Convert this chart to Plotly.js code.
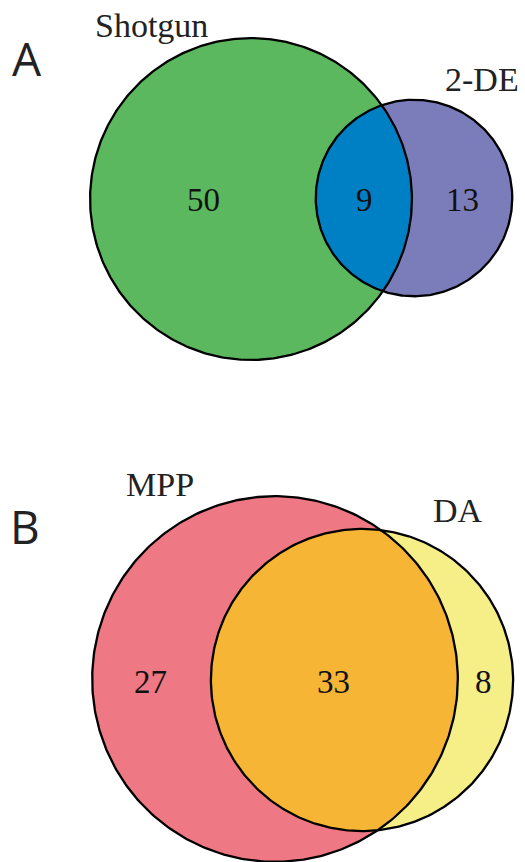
<!DOCTYPE html>
<html>
<head>
<meta charset="utf-8">
<script src="https://cdn.plot.ly/plotly-3.0.1.min.js"></script>
<style>
html,body{margin:0;padding:0;background:#fff;}
#chart{width:525px;height:862px;}
</style>
</head>
<body>
<div id="chart"></div>
<script>
// ---- data ----
const panelLetters = ["A", "B"];
const setNamesA = ["Shotgun", "2-DE"];
const regionCountsA = [50, 9, 13];   // only Shotgun, both, only 2-DE
const setNamesB = ["MPP", "DA"];
const regionCountsB = [27, 33, 8];   // only MPP, both, only DA

// ---- layout / style (pixel coordinates) ----
const geom = [
  { k: 20.95, c1: [251, 199], c2: [414, 198],
    letterPos: [27, 58], namePos: [[151, 25], [482, 79]],
    numPos: [[203, 200], [364, 200], [462, 200]],
    colors: ["#5CB85F", "#7B7DBA", "#0080C4"] },
  { k: 23.6, c1: [275, 679], c2: [362, 680],
    letterPos: [25, 526], namePos: [[160, 484], [458, 510]],
    numPos: [[150, 682], [333, 682], [483, 682]],
    colors: ["#EF7885", "#F6EF88", "#F6B535"] }
];
const panels = [
  { names: setNamesA, counts: regionCountsA },
  { names: setNamesB, counts: regionCountsB }
];

function circlePts(c, r, a0, a1, n) {
  const xs = [], ys = [];
  for (let i = 0; i <= n; i++) {
    const a = a0 + (a1 - a0) * i / n;
    xs.push(c[0] + r * Math.cos(a));
    ys.push(c[1] + r * Math.sin(a));
  }
  return [xs, ys];
}

const traces = [];
const annotations = [];
const serif = "Liberation Serif, Times New Roman, serif";

panels.forEach((p, i) => {
  const g = geom[i];
  const r1 = g.k * Math.sqrt(p.counts[0] + p.counts[1]);
  const r2 = g.k * Math.sqrt(p.counts[2] + p.counts[1]);
  const dx = g.c2[0] - g.c1[0], dy = g.c2[1] - g.c1[1];
  const d = Math.hypot(dx, dy);
  const th = Math.atan2(dy, dx);
  const a = (r1 * r1 - r2 * r2 + d * d) / (2 * d);
  const al1 = Math.acos(Math.max(-1, Math.min(1, a / r1)));
  const al2 = Math.acos(Math.max(-1, Math.min(1, (d - a) / r2)));

  const C1 = circlePts(g.c1, r1, 0, 2 * Math.PI, 400);
  const C2 = circlePts(g.c2, r2, 0, 2 * Math.PI, 400);
  const L1 = circlePts(g.c1, r1, th - al1, th + al1, 200);
  const L2 = circlePts(g.c2, r2, th + Math.PI - al2, th + Math.PI + al2, 200);
  const lx = L1[0].concat(L2[0]), ly = L1[1].concat(L2[1]);

  const base = { type: "scatter", mode: "lines", hoverinfo: "skip", showlegend: false };
  traces.push(Object.assign({}, base, { x: C1[0], y: C1[1], fill: "toself", fillcolor: g.colors[0], line: { width: 0, color: g.colors[0] } }));
  traces.push(Object.assign({}, base, { x: C2[0], y: C2[1], fill: "toself", fillcolor: g.colors[1], line: { width: 0, color: g.colors[1] } }));
  traces.push(Object.assign({}, base, { x: lx, y: ly, fill: "toself", fillcolor: g.colors[2], line: { width: 0, color: g.colors[2] } }));
  traces.push(Object.assign({}, base, { x: C1[0], y: C1[1], line: { width: 2.3, color: "#000" } }));
  traces.push(Object.assign({}, base, { x: C2[0], y: C2[1], line: { width: 2.3, color: "#000" } }));

  annotations.push({ x: g.letterPos[0], y: g.letterPos[1], text: panelLetters[i], showarrow: false,
    xanchor: "center", yanchor: "middle", font: { family: "Open Sans, sans-serif", size: 46, color: "#222" } });
  p.names.forEach((nm, j) => {
    annotations.push({ x: g.namePos[j][0], y: g.namePos[j][1], text: nm, showarrow: false,
      xanchor: "center", yanchor: "middle", font: { family: serif, size: 34, color: "#222" } });
  });
  p.counts.forEach((v, j) => {
    annotations.push({ x: g.numPos[j][0], y: g.numPos[j][1], text: String(v), showarrow: false,
      xanchor: "center", yanchor: "middle", font: { family: serif, size: 33, color: "#111" } });
  });
});

const layout = {
  width: 525, height: 862,
  margin: { l: 0, r: 0, t: 0, b: 0 },
  paper_bgcolor: "#fff", plot_bgcolor: "#fff",
  xaxis: { range: [0, 525], visible: false, fixedrange: true },
  yaxis: { range: [862, 0], visible: false, fixedrange: true },
  annotations: annotations,
  showlegend: false
};

Plotly.newPlot("chart", traces, layout, { staticPlot: true, displayModeBar: false });
</script>
</body>
</html>
